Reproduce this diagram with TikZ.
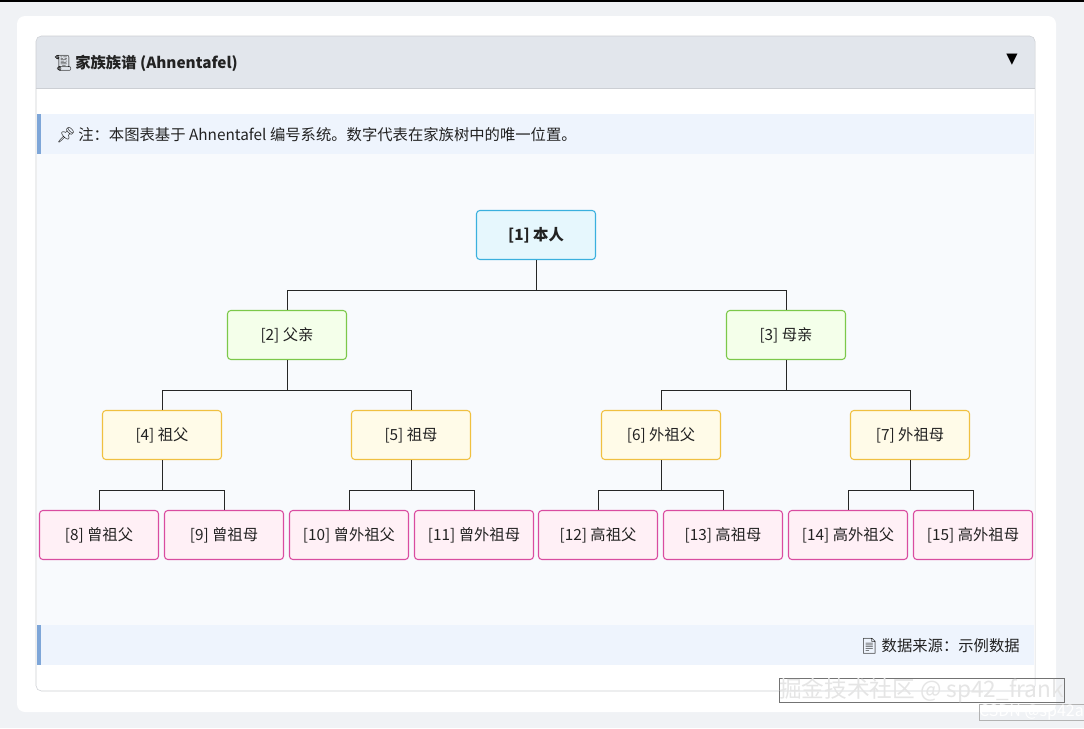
\documentclass[tikz,border=0pt]{standalone}
\usepackage{fontspec}
\setmainfont{Noto Sans CJK SC}
\newfontfamily\emo{Noto Emoji}
\newfontfamily\dv{DejaVu Sans}
\definecolor{pagebg}{HTML}{F0F2F5}
\definecolor{hdr}{HTML}{E2E6EC}
\definecolor{pborder}{HTML}{CCCFD4}
\definecolor{noteb}{HTML}{EEF4FD}
\definecolor{notebar}{HTML}{7EA6D8}
\definecolor{diag}{HTML}{F8FAFD}
\definecolor{cf}{HTML}{E6F7FD}\definecolor{cb}{HTML}{3AB0DE}
\definecolor{gf}{HTML}{F4FFEA}\definecolor{gb}{HTML}{7CC84A}
\definecolor{yf}{HTML}{FFFBE8}\definecolor{yb}{HTML}{F0C040}
\definecolor{pf}{HTML}{FFF0F6}\definecolor{pb}{HTML}{D94CA0}
\definecolor{txt}{HTML}{222222}
\begin{document}
\begin{tikzpicture}[x=0.75pt,y=-0.75pt,
  person/.style={draw,line width=0.8pt,rounded corners=2.5pt,minimum width=89.25pt,minimum height=36.75pt,inner sep=0pt,font=\fontsize{11.5}{13}\selectfont,text=txt},
  lv1/.style={person,fill=cf,draw=cb,font=\bfseries\fontsize{11.5}{13}\selectfont},
  lv2/.style={person,fill=gf,draw=gb},
  lv3/.style={person,fill=yf,draw=yb},
  lv4/.style={person,fill=pf,draw=pb},
  link/.style={draw=black!85,line width=0.6pt}]
\useasboundingbox (0,0) rectangle (1084,728);
\fill[pagebg] (0,0) rectangle (1084,728);
\fill[black] (0,0) rectangle (1084,1.5);
\fill[white,rounded corners=6pt] (17,16) rectangle (1056,712);
% panel
\fill[white] (36,36) rectangle (1035,691);
\fill[diag] (37,154) rectangle (1034,625);
\fill[noteb] (37,114) rectangle (1034,154);
\fill[notebar] (37,114) rectangle (41,154);
\fill[noteb] (37,625) rectangle (1034,665);
\fill[notebar] (37,625) rectangle (41,665);
\fill[hdr,rounded corners=4pt] (36,36) rectangle (1035,88);
\fill[hdr] (36,70) rectangle (1035,88);
\draw[pborder] (36,88) -- (1035,88);
\draw[pborder,rounded corners=4pt] (36,36) rectangle (1035,691);
\node[anchor=west,inner sep=0pt,font=\bfseries\fontsize{11.5}{13}\selectfont,text=txt] (title) at (53,63) {{\emo 📜}\,家族族谱 (Ahnentafel)};
\node[inner sep=0pt,font=\dv\fontsize{11}{13}\selectfont] (tog) at (1012,60) {▼};
\node[anchor=west,inner sep=0pt,font=\fontsize{11.5}{13}\selectfont,text=txt] (note) at (56,135) {{\emo 📌}\,注：本图表基于 Ahnentafel 编号系统。数字代表在家族树中的唯一位置。};
\node[anchor=east,inner sep=0pt,font=\fontsize{11.5}{13}\selectfont,text=txt] (src) at (1020,646) {{\emo 📄}\,数据来源：示例数据};
% nodes
\node[lv1] (n1) at (536,235) {[1] 本人};
\node[lv2] (n2) at (287,335) {[2] 父亲};
\node[lv2] (n3) at (786,335) {[3] 母亲};
\node[lv3] (n4) at (162,435) {[4] 祖父};
\node[lv3] (n5) at (411,435) {[5] 祖母};
\node[lv3] (n6) at (661,435) {[6] 外祖父};
\node[lv3] (n7) at (910,435) {[7] 外祖母};
\node[lv4] (n8) at (99,535) {[8] 曾祖父};
\node[lv4] (n9) at (224,535) {[9] 曾祖母};
\node[lv4] (n10) at (349,535) {[10] 曾外祖父};
\node[lv4] (n11) at (474,535) {[11] 曾外祖母};
\node[lv4] (n12) at (598,535) {[12] 高祖父};
\node[lv4] (n13) at (723,535) {[13] 高祖母};
\node[lv4] (n14) at (848,535) {[14] 高外祖父};
\node[lv4] (n15) at (973,535) {[15] 高外祖母};
% connectors
\foreach \p/\a/\b/\y in {n1/n2/n3/290,n2/n4/n5/390,n3/n6/n7/390,n4/n8/n9/490,n5/n10/n11/490,n6/n12/n13/490,n7/n14/n15/490}{
  \draw[link] (\p.south) -- (\p.south |- 0,\y);
  \draw[link] (\a.north) -- (\a.north |- 0,\y) -- (\b.north |- 0,\y) -- (\b.north);
}
% watermark
\node[anchor=east,inner sep=0pt,font=\fontsize{17}{19}\selectfont,text=black!10,draw=black!55,line width=0.3pt] (wm) at (1064,690) {掘金技术社区 @ sp42\_frank};
\node[anchor=east,inner sep=0pt,font=\fontsize{12}{14}\selectfont,text=white,draw=black!30,line width=0.3pt] (wm2) at (1084,712) {CSDN @sp42a};
\end{tikzpicture}
\end{document}
